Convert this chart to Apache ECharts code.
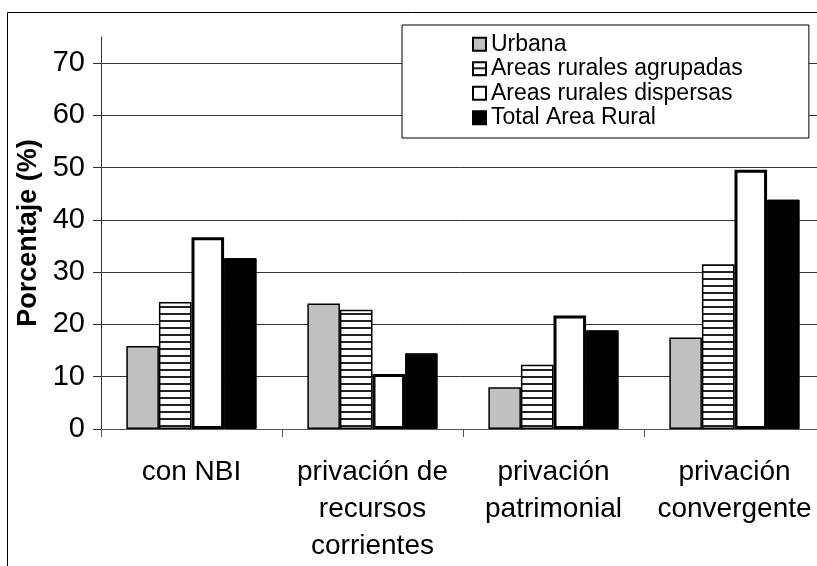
<!DOCTYPE html>
<html>
<head>
<meta charset="utf-8">
<script src="https://cdn.jsdelivr.net/npm/echarts@6/dist/echarts.min.js"></script>
<style>
  html, body { margin: 0; padding: 0; background: #fff; }
  #chart { width: 817px; height: 566px; }
</style>
</head>
<body>
<div id="chart"></div>
<script>
// categorías del eje x
var categorias = ["con NBI", "privación de\nrecursos\ncorrientes", "privación\npatrimonial", "privación\nconvergente"];
// series (porcentaje)
var urbana = [15.9, 24.0, 8.0, 17.5];
var agrupadas = [24.3, 22.8, 12.3, 31.5];
var dispersas = [36.7, 10.5, 21.7, 49.6];
var totalRural = [32.7, 14.5, 18.9, 43.9];
var ticksY = [0, 10, 20, 30, 40, 50, 60, 70];

// patrón de rayas horizontales
var cv = document.createElement("canvas");
cv.width = 8;
cv.height = 7;
var ctx = cv.getContext("2d");
ctx.fillStyle = "#fff";
ctx.fillRect(0, 0, 8, 7);
ctx.fillStyle = "#222";
ctx.fillRect(0, 5, 8, 2);
var rayas = { image: cv, repeat: "repeat" };

var myChart = echarts.init(document.getElementById("chart"));
var font = "'Liberation Sans', Arial, sans-serif";

var option = {
  animation: false,
  backgroundColor: "#fff",
  textStyle: { fontFamily: font, color: "#000" },
  graphic: [
    {
      type: "rect",
      shape: { x: 7.5, y: 12.5, width: 840, height: 600 },
      style: { fill: null, stroke: "#000", lineWidth: 1 },
      z: -1
    }
  ],
  grid: {
    left: 101,
    top: 37,
    right: -8,
    bottom: 137,
    outerBoundsMode: "none"
  },
  legend: {
    orient: "vertical",
    left: 402,
    top: 25,
    backgroundColor: "#fff",
    borderColor: "#000",
    borderWidth: 1,
    padding: [7, 66, 8, 70],
    icon: "rect",
    itemWidth: 13,
    itemHeight: 13,
    itemGap: 0,
    textStyle: { fontSize: 23, lineHeight: 24.5, color: "#000", fontFamily: font },
    data: ["Urbana", "Areas rurales agrupadas", "Areas rurales dispersas", "Total Area Rural"]
  },
  xAxis: {
    type: "category",
    data: categorias,
    axisLine: { lineStyle: { color: "#555", width: 1 } },
    axisTick: { show: true, length: 8, lineStyle: { color: "#555" } },
    axisLabel: { fontSize: 28, lineHeight: 37, margin: 25, color: "#000", interval: 0 }
  },
  yAxis: {
    type: "value",
    min: 0,
    max: 75,
    interval: 10,
    name: "Porcentaje (%)",
    nameLocation: "middle",
    nameRotate: 90,
    nameGap: 57,
    nameTextStyle: { fontSize: 27, fontWeight: "bold", color: "#000" },
    axisLine: { show: true, lineStyle: { color: "#333", width: 1 } },
    axisTick: { show: true, length: 8, customValues: ticksY, lineStyle: { color: "#333" } },
    axisLabel: { fontSize: 29, margin: 16, color: "#000", customValues: ticksY },
    splitLine: {
      show: true,
      lineStyle: { color: ["#333", "#333", "#333", "#333", "#333", "#333", "#333", "#333", "#999"], width: 1 }
    }
  },
  series: [
    {
      name: "Urbana",
      type: "bar",
      data: urbana,
      barGap: "0%",
      barCategoryGap: "28%",
      itemStyle: { color: "#c0c0c0", borderColor: "#000", borderWidth: 1.5 }
    },
    {
      name: "Areas rurales agrupadas",
      type: "bar",
      data: agrupadas,
      itemStyle: { color: rayas, borderColor: "#000", borderWidth: 1.5 }
    },
    {
      name: "Areas rurales dispersas",
      type: "bar",
      data: dispersas,
      itemStyle: { color: "#fff", borderColor: "#000", borderWidth: 3 }
    },
    {
      name: "Total Area Rural",
      type: "bar",
      data: totalRural,
      itemStyle: { color: "#000", borderColor: "#000", borderWidth: 1 }
    }
  ]
};

myChart.setOption(option);
</script>
</body>
</html>
